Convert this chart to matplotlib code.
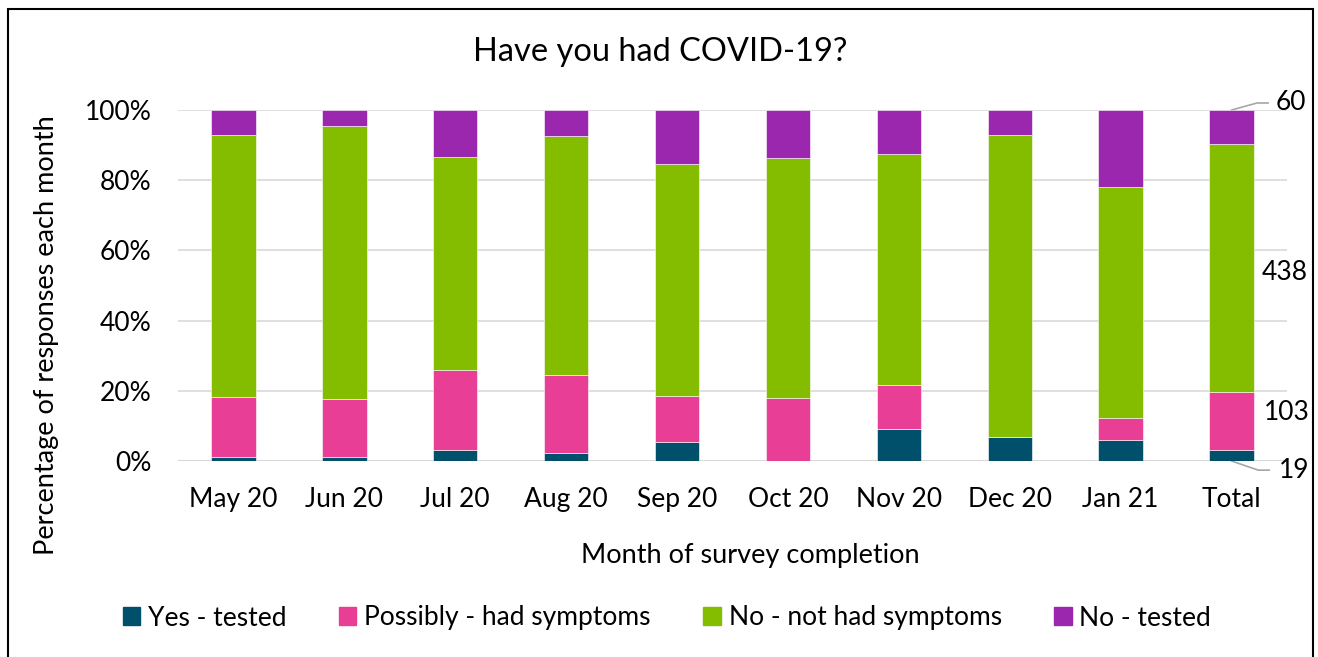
import matplotlib
matplotlib.use("Agg")
import matplotlib.pyplot as plt
from matplotlib.patches import Rectangle
from matplotlib.lines import Line2D
import numpy as np

plt.rcParams['font.family'] = ['Lato', 'DejaVu Sans']

categories = ["May 20", "Jun 20", "Jul 20", "Aug 20", "Sep 20", "Oct 20",
              "Nov 20", "Dec 20", "Jan 21", "Total"]
series_names = ["Yes - tested", "Possibly - had symptoms", "No - not had symptoms", "No - tested"]
yes_tested = [1.2, 1.1, 3.1, 2.2, 5.5, 0.0, 9.1, 6.8, 6.1, 3.06]
possibly = [16.9, 16.5, 22.8, 22.3, 12.9, 18.0, 12.6, 0.0, 6.2, 16.61]
no_symptoms = [74.8, 77.8, 60.7, 68.1, 66.2, 68.3, 65.8, 86.1, 65.8, 70.65]
no_tested = [7.1, 4.6, 13.4, 7.4, 15.4, 13.7, 12.5, 7.1, 21.9, 9.68]
total_counts = [19, 103, 438, 60]
colors = ["#00506B", "#E83E96", "#84BD00", "#9B27AF"]

W, H = 1318, 657
fig = plt.figure(figsize=(W/100, H/100), dpi=100)
ax = fig.add_axes([178/W, 1-461/H, (1287-178)/W, (461-110)/H])

x = np.arange(len(categories))
series = [yes_tested, possibly, no_symptoms, no_tested]
bottom = np.zeros(len(categories))
for vals, col, name in zip(series, colors, series_names):
    v = np.array(vals) / 100.0
    ax.bar(x, v, 0.4, bottom=bottom, color=col, label=name,
           edgecolor="#ffffff", linewidth=0.4, zorder=3)
    bottom += v

ax.set_xlim(-0.5, len(categories) - 0.5)
ax.set_ylim(0, 1)
yt = np.arange(0, 1.01, 0.2)
ax.set_yticks(yt)
ax.set_yticklabels([f"{int(round(t*100))}%" for t in yt])
ax.set_xticks(x)
ax.set_xticklabels(categories)
ax.tick_params(axis='both', length=0, labelsize=19, colors='black')
ax.tick_params(axis='x', pad=19)
ax.tick_params(axis='y', pad=19)
ax.grid(axis='y', color='#d9d9d9', linewidth=1.2, zorder=0)
for s in ax.spines.values():
    s.set_visible(False)
ax.axhline(0, color='#d9d9d9', linewidth=1.5, zorder=1)

fig.text(750/W, 1-555/H, "Month of survey completion", fontsize=19.5, ha='center', va='center')
fig.text(47/W, 1-335/H, "Percentage of responses each month", fontsize=19.5,
         ha='center', va='center', rotation=90)
fig.text(660/W, 1-52/H, "Have you had COVID-19?", ha='center', va='center', fontsize=23.5)

# right-hand count labels for Total bar
tx = len(categories) - 1
ax.text(tx + 0.275, 0.536, str(total_counts[2]), fontsize=19, va='center', ha='left', clip_on=False)
ax.text(tx + 0.294, 0.137, str(total_counts[1]), fontsize=19, va='center', ha='left', clip_on=False)
ax.add_line(Line2D([tx, tx + 0.24, tx + 0.34], [0.0, -0.026, -0.026], color='#a6a6a6',
                   linewidth=1.2, clip_on=False))
ax.text(tx + 0.43, -0.028, str(total_counts[0]), fontsize=19, va='center', ha='left', clip_on=False)
ax.add_line(Line2D([tx, tx + 0.23, tx + 0.33], [1.0, 1.02, 1.02], color='#a6a6a6',
                   linewidth=1.2, clip_on=False))
ax.text(tx + 0.40, 1.02, str(total_counts[3]), fontsize=19, va='center', ha='left', clip_on=False)

handles = [Rectangle((0, 0), 1, 1, color=c) for c in colors]
fig.legend(handles, series_names, loc='center', bbox_to_anchor=(667/W, 1-618/H),
           ncol=4, frameon=False, fontsize=19, handlelength=0.65, handleheight=0.65,
           handletextpad=0.3, columnspacing=2.0)

fig.patches.append(Rectangle((8/W, -0.05), (1313-8)/W, 1.05 - 9/H,
                             transform=fig.transFigure, fill=False, edgecolor='black',
                             linewidth=1.5))

fig.savefig("out.png", dpi=100)
